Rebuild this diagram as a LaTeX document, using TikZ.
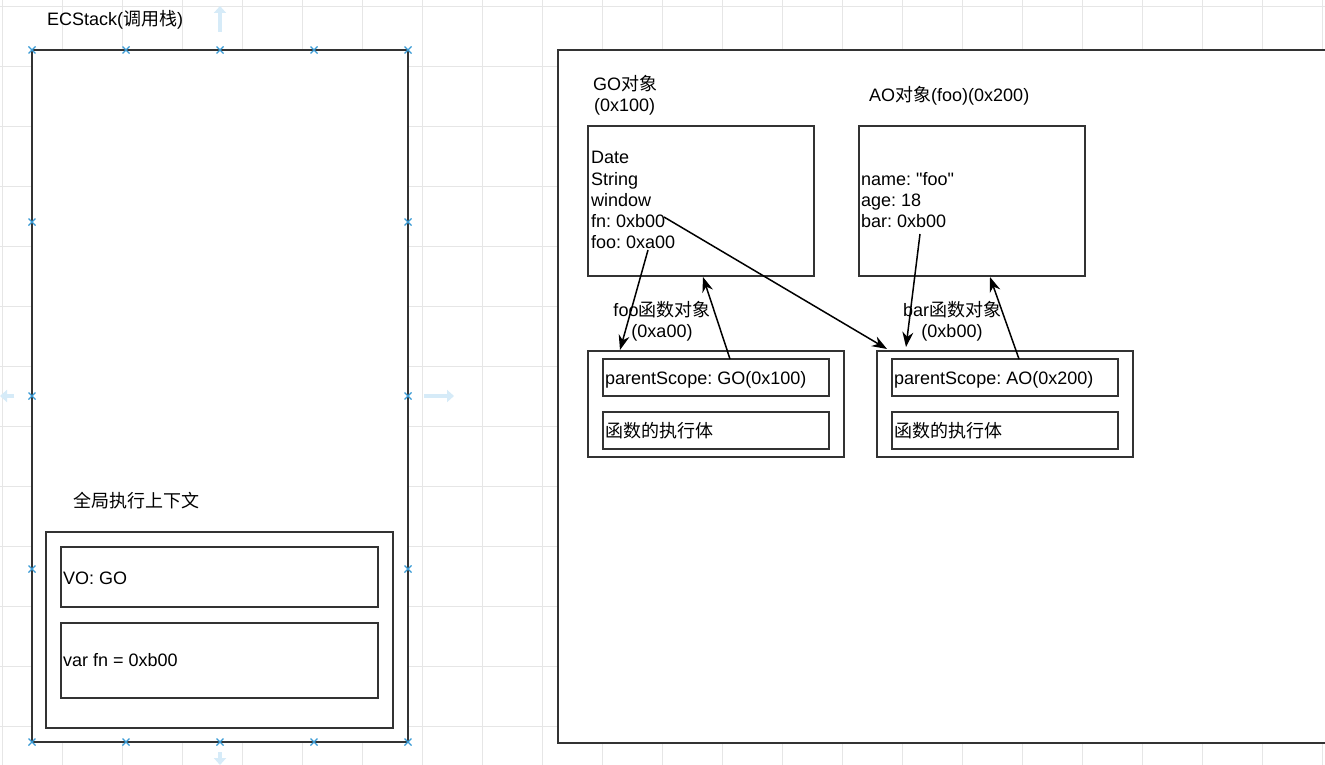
\documentclass[tikz,border=0pt]{standalone}
\usepackage{fontspec}
\setmainfont{Liberation Sans}
\newfontfamily\cjk{Noto Sans CJK SC}
\newcommand{\zh}[1]{{\cjk #1}}
\usetikzlibrary{arrows.meta}
\definecolor{linec}{HTML}{333333}
\definecolor{gridc}{HTML}{E6E6E6}
\definecolor{handlec}{HTML}{3A9BD5}
\definecolor{hintc}{HTML}{D6EBF8}
\frenchspacing
\begin{document}
\begin{tikzpicture}[x=1pt,y=-1pt,font=\fontsize{18}{21}\selectfont\frenchspacing,
  box/.style={draw=linec,line width=1.6pt,fill=white,anchor=north west,inner sep=0pt,outer sep=0pt},
  txt/.style={anchor=base west,inner sep=0pt,text=black},
  ctxt/.style={anchor=base,inner sep=0pt,text=black},
  arr/.style={-{Stealth[length=15pt,width=11pt]},line width=1.5pt,black},
  hint/.style={-{Triangle[length=7pt,width=12pt]},line width=4pt,hintc}]
\useasboundingbox (0,0) rectangle (1325,765);
\fill[white] (0,0) rectangle (1325,765);
% background grid
\foreach \x in {2,62,...,1322} \draw[gridc,line width=0.9pt] (\x,0) -- (\x,765);
\foreach \y in {6,66,...,726} \draw[gridc,line width=0.9pt] (0,\y) -- (1325,\y);
% faint hover arrows
\draw[hint] (220,32) -- (220,6);
\draw[hint] (424,396) -- (454,396);
\draw[hint] (14,396) -- (0,396);
\draw[hint] (220,752) -- (220,765);
% ECStack
\node[txt] (ecslabel) at (47,26) {ECStack(\zh{调用栈})};
\node[box,minimum width=376pt,minimum height=692pt] (ecs) at (32,50) {};
\node[txt] (gclabel) at (73,507) {\zh{全局执行上下文}};
\node[box,minimum width=347pt,minimum height=196pt] (gctx) at (46,532) {};
\node[box,minimum width=317pt,minimum height=60pt] (vo) at (61,547) {};
\node[txt] (votxt) at (63,584) {VO: GO};
\node[box,minimum width=317pt,minimum height=75pt] (varfn) at (61,623) {};
\node[txt] (varfntxt) at (63,666) {var fn = 0xb00};
% selection handles
\foreach \p in {(32,50),(126,50),(220,50),(314,50),(408,50),
                (32,222),(408,222),(32,396),(408,396),(32,569),(408,569),
                (32,742),(126,742),(220,742),(314,742),(408,742)}
  \draw[handlec,line width=1.1pt] \p ++(-3.5,-3.5) -- ++(7,7) \p ++(-3.5,3.5) -- ++(7,-7);
% heap area
\node[box,minimum width=800pt,minimum height=693pt] (heap) at (558,50) {};
% GO object
\node[txt] (golabel1) at (593,91) {GO\zh{对象}};
\node[txt] (golabel2) at (594,112) {(0x100)};
\node[box,minimum width=226pt,minimum height=150pt] (go) at (588,126) {};
\node[txt] (go1) at (591,164) {Date};
\node[txt] (go2) at (591,185) {String};
\node[txt] (go3) at (591,206) {window};
\node[txt] (go4) at (591,227) {fn: 0xb00};
\node[txt] (go5) at (591,248) {foo: 0xa00};
% AO object
\node[txt] (aolabel) at (869,102) {AO\zh{对象}(foo)(0x200)};
\node[box,minimum width=226pt,minimum height=150pt] (ao) at (859,126) {};
\node[txt] (ao1) at (861,185) {name: \textquotedbl foo\textquotedbl};
\node[txt] (ao2) at (861,206) {age: 18};
\node[txt] (ao3) at (861,227) {bar: 0xb00};
% foo function object
\node[ctxt] (foolabel1) at (662,316) {foo\zh{函数对象}};
\node[ctxt] (foolabel2) at (662,337) {(0xa00)};
\node[box,minimum width=256pt,minimum height=106pt] (fooobj) at (588,351) {};
\node[box,minimum width=226pt,minimum height=37pt] (foops) at (603,359) {};
\node[txt] (foopstxt) at (605,384) {parentScope: GO(0x100)};
\node[box,minimum width=226pt,minimum height=37pt] (foobody) at (603,412) {};
\node[txt] (foobodytxt) at (605,437) {\zh{函数的执行体}};
% bar function object
\node[ctxt] (barlabel1) at (952,316) {bar\zh{函数对象}};
\node[ctxt] (barlabel2) at (952,337) {(0xb00)};
\node[box,minimum width=256pt,minimum height=106pt] (barobj) at (877,351) {};
\node[box,minimum width=226pt,minimum height=37pt] (barps) at (892,359) {};
\node[txt] (barpstxt) at (894,384) {parentScope: AO(0x200)};
\node[box,minimum width=226pt,minimum height=37pt] (barbody) at (892,412) {};
\node[txt] (barbodytxt) at (894,437) {\zh{函数的执行体}};
% connector endpoints
\coordinate (fooref) at (648,250);
\coordinate (fooin) at (620,350);
\coordinate (gops) at (730,359);
\coordinate (gobot) at (703,277);
\coordinate (fnref) at (664,217);
\coordinate (barin) at (887,349);
\coordinate (barref) at (920,234);
\coordinate (barin2) at (906,347);
\coordinate (aops) at (1019,359);
\coordinate (aobot) at (990,277);
\draw[arr] (fooref) -- (fooin);
\draw[arr] (gops) -- (gobot);
\draw[arr] (fnref) -- (barin);
\draw[arr] (barref) -- (barin2);
\draw[arr] (aops) -- (aobot);
\end{tikzpicture}
\end{document}
